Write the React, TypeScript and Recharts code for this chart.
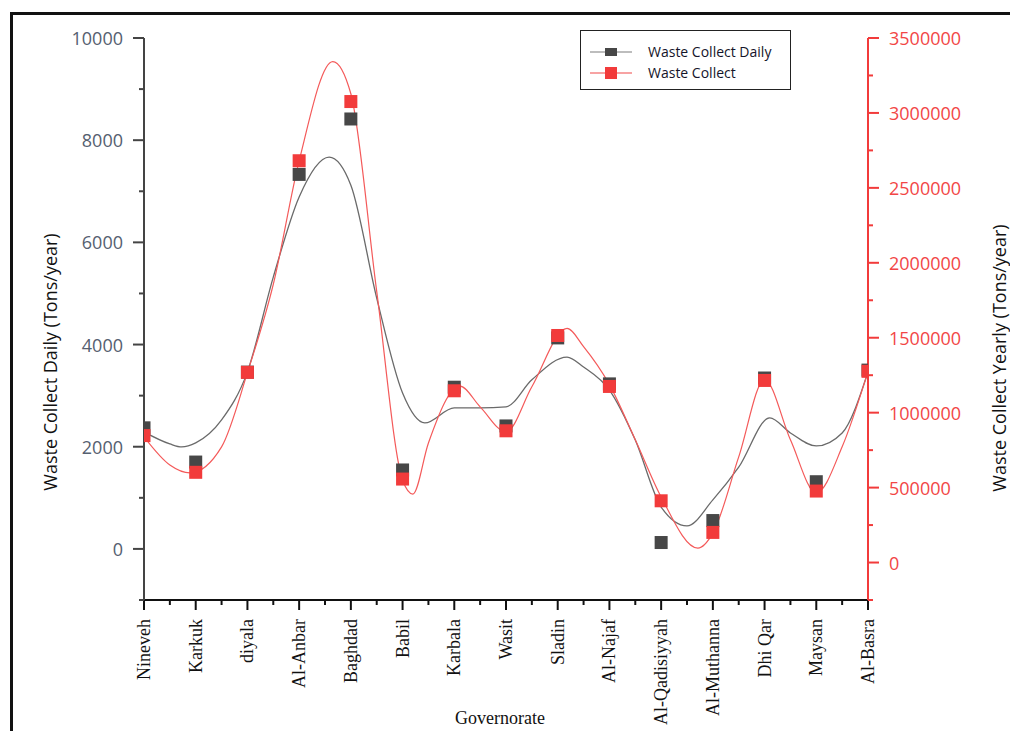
import React from 'react'
import {
  ComposedChart,
  Line,
  Scatter,
  XAxis,
  YAxis,
} from 'recharts'

const categories = [
  'Nineveh', 'Karkuk', 'diyala', 'Al-Anbar', 'Baghdad', 'Babil', 'Karbala', 'Wasit',
  'Sladin', 'Al-Najaf', 'Al-Qadisiyyah', 'Al-Muthanna', 'Dhi Qar', 'Maysan', 'Al-Basra',
]

// measured points
const dailyValues = [2370, 1700, 3460, 7330, 8415, 1545, 3165, 2407, 4130, 3230, 125, 555, 3345, 1315, 3500]
const yearlyValues = [
  847000, 602000, 1269000, 2681000, 3076000, 557000, 1146000, 879000,
  1515000, 1175000, 412000, 201000, 1215000, 477000, 1276000,
]

// fitted curves at category positions (x = index)
const dailyFitX = [0, 0.5, 0.73, 1, 1.5, 2, 2.5, 3, 3.58, 4, 4.5, 5, 5.43, 6, 6.5, 7, 7.5, 8.18, 8.5, 9, 9.5, 10, 10.5, 11, 11.5, 12.1, 12.5, 13, 13.5, 14]
const dailyFitY = [2290, 2055, 1996, 2075, 2525, 3465, 5320, 6890, 7670, 7120, 4910, 3050, 2465, 2760, 2760, 2780, 3310, 3755, 3560, 3110, 2130, 820, 450, 960, 1600, 2564, 2270, 2015, 2270, 3465]

const yearlyFitX = [0, 0.5, 0.89, 1.5, 2, 2.5, 3, 3.65, 4, 4.5, 5, 5.2, 5.5, 6.11, 6.5, 7, 7.5, 8.18, 8.5, 9, 9.5, 10, 10.71, 11, 11.5, 12, 12.5, 13, 13.5, 14]
const yearlyFitY = [
  839000, 651000, 598000, 772000, 1267000, 1856000, 2680000, 3343000, 3128000, 1809000,
  551000, 457000, 798000, 1177000, 1039000, 872000, 1173000, 1562000, 1441000, 1187000,
  819000, 437000, 96000, 196000, 705000, 1220000, 819000, 464000, 772000, 1274000,
]

const xTicks = Array.from({ length: 29 }, (_, i) => i / 2)
const leftTicks = [-1000, 0, 1000, 2000, 3000, 4000, 5000, 6000, 7000, 8000, 9000, 10000]
const rightTicks = Array.from({ length: 16 }, (_, i) => -250000 + i * 250000)

const dailyPts = dailyValues.map((y, i) => ({ x: i, y }))
const yearlyPts = yearlyValues.map((y, i) => ({ x: i, y }))
const dailyFit = dailyFitX.map((x, i) => ({ x, y: dailyFitY[i] }))
const yearlyFit = yearlyFitX.map((x, i) => ({ x, y: yearlyFitY[i] }))

const SANS = '"Open Sans", "DejaVu Sans", sans-serif'
const SERIF = '"Liberation Serif", "DejaVu Serif", serif'
const RED = '#f23b3b'
const DARK = '#474747'

function XTick(props: any) {
  const { x, y, payload } = props
  const major = Number.isInteger(payload.value)
  const ty = y + 19
  return (
    <g>
      <line x1={x} x2={x} y1={y} y2={y + (major ? 10 : 5)} stroke="#111" strokeWidth={2} />
      {major && (
        <text
          x={x}
          y={ty}
          transform={`rotate(-90 ${x} ${ty})`}
          textAnchor="end"
          dominantBaseline="central"
          fontFamily={SERIF}
          fontSize={18}
          fill="#111"
        >
          {categories[payload.value]}
        </text>
      )}
    </g>
  )
}

function LeftTick(props: any) {
  const { x, y, payload } = props
  const v = payload.value
  const major = v >= 0 && v % 2000 === 0
  return (
    <g>
      <line x1={x} x2={x - (major ? 11 : 5)} y1={y} y2={y} stroke="#444" strokeWidth={2} />
      {major && (
        <text x={x - 21} y={y} textAnchor="end" dominantBaseline="central" fontFamily={SANS} fontSize={18} fill="#556070">
          {v}
        </text>
      )}
    </g>
  )
}

function RightTick(props: any) {
  const { x, y, payload } = props
  const v = payload.value
  const major = v >= 0 && v % 500000 === 0
  return (
    <g>
      <line x1={x} x2={x + (major ? 11 : 5)} y1={y} y2={y} stroke={RED} strokeWidth={2} />
      {major && (
        <text x={x + 21} y={y} textAnchor="start" dominantBaseline="central" fontFamily={SANS} fontSize={18} fill="#f24646">
          {v}
        </text>
      )}
    </g>
  )
}

const square = (size: number, fill: string) => (p: any) => (
  <rect x={p.cx - size / 2} y={p.cy - size / 2} width={size} height={size} fill={fill} />
)

function LegendBox() {
  const rows = [
    { label: 'Waste Collect Daily', line: '#bdbdbd', fill: DARK, h: 8 },
    { label: 'Waste Collect', line: '#f7a3a3', fill: RED, h: 12 },
  ]
  return (
    <div
      style={{
        position: 'absolute',
        left: 580,
        top: 30,
        border: '1px solid #222',
        width: 211,
        height: 60,
        boxSizing: 'border-box',
        padding: '10px 0 0 9px',
        background: '#fff',
      }}
    >
      {rows.map((r) => (
        <div key={r.label} style={{ display: 'flex', alignItems: 'center', height: 21 }}>
          <svg width={42} height={14}>
            <line x1={0} x2={42} y1={7} y2={7} stroke={r.line} strokeWidth={2} />
            <rect x={15} y={7 - r.h / 2} width={12} height={r.h} fill={r.fill} />
          </svg>
          <span style={{ marginLeft: 16, fontFamily: SANS, fontSize: 14, color: '#14142a' }}>{r.label}</span>
        </div>
      ))}
    </div>
  )
}

export default function App() {
  return (
    <div style={{ position: 'absolute', left: 0, top: 0, width: 1010, height: 731, overflow: 'hidden', background: '#fff' }}>
      <div
        style={{
          position: 'absolute',
          left: 10,
          top: 12,
          width: 1010,
          height: 740,
          borderLeft: '3px solid #111',
          borderTop: '3px solid #111',
        }}
      />
      <ComposedChart
        width={1010}
        height={731}
        margin={{ top: 38, right: 0, bottom: 0, left: 0 }}
        style={{ position: 'absolute', left: 0, top: 0 }}
      >
        <XAxis
          dataKey="x"
          type="number"
          domain={[0, 14]}
          ticks={xTicks}
          interval={0}
          height={131}
          tickSize={0}
          tickMargin={0}
          tick={<XTick />}
          axisLine={{ stroke: '#111', strokeWidth: 2 }}
          allowDataOverflow
        />
        <YAxis
          yAxisId="left"
          domain={[-1000, 10000]}
          ticks={leftTicks}
          interval={0}
          width={144}
          tickSize={0}
          tickMargin={0}
          tick={<LeftTick />}
          axisLine={{ stroke: '#444', strokeWidth: 2 }}
          allowDataOverflow
        />
        <YAxis
          yAxisId="right"
          orientation="right"
          domain={[-250000, 3500000]}
          ticks={rightTicks}
          interval={0}
          width={142}
          tickSize={0}
          tickMargin={0}
          tick={<RightTick />}
          axisLine={{ stroke: RED, strokeWidth: 2 }}
          allowDataOverflow
        />
        <Line
          yAxisId="left"
          data={dailyFit}
          dataKey="y"
          type="monotoneX"
          stroke="#6a6a6a"
          strokeWidth={1.3}
          dot={false}
          activeDot={false}
          isAnimationActive={false}
        />
        <Line
          yAxisId="right"
          data={yearlyFit}
          dataKey="y"
          type="monotoneX"
          stroke="#f45a5a"
          strokeWidth={1.2}
          dot={false}
          activeDot={false}
          isAnimationActive={false}
        />
        <Scatter yAxisId="left" data={dailyPts} dataKey="y" shape={square(13, DARK)} isAnimationActive={false} />
        <Scatter yAxisId="right" data={yearlyPts} dataKey="y" shape={square(13, RED)} isAnimationActive={false} />
      </ComposedChart>
      <LegendBox />
      <div
        style={{
          position: 'absolute',
          left: 50,
          top: 362,
          transform: 'translate(-50%, -50%) rotate(-90deg)',
          whiteSpace: 'nowrap',
          fontFamily: SANS,
          fontSize: 18,
          color: '#111',
        }}
      >
        Waste Collect Daily (Tons/year)
      </div>
      <div
        style={{
          position: 'absolute',
          left: 999,
          top: 358,
          transform: 'translate(-50%, -50%) rotate(-90deg)',
          whiteSpace: 'nowrap',
          fontFamily: SANS,
          fontSize: 18,
          color: '#111',
        }}
      >
        Waste Collect Yearly (Tons/year)
      </div>
      <div
        style={{
          position: 'absolute',
          left: 500,
          top: 708,
          transform: 'translateX(-50%)',
          whiteSpace: 'nowrap',
          fontFamily: SERIF,
          fontSize: 18,
          lineHeight: '20px',
          color: '#111',
        }}
      >
        Governorate
      </div>
    </div>
  )
}
